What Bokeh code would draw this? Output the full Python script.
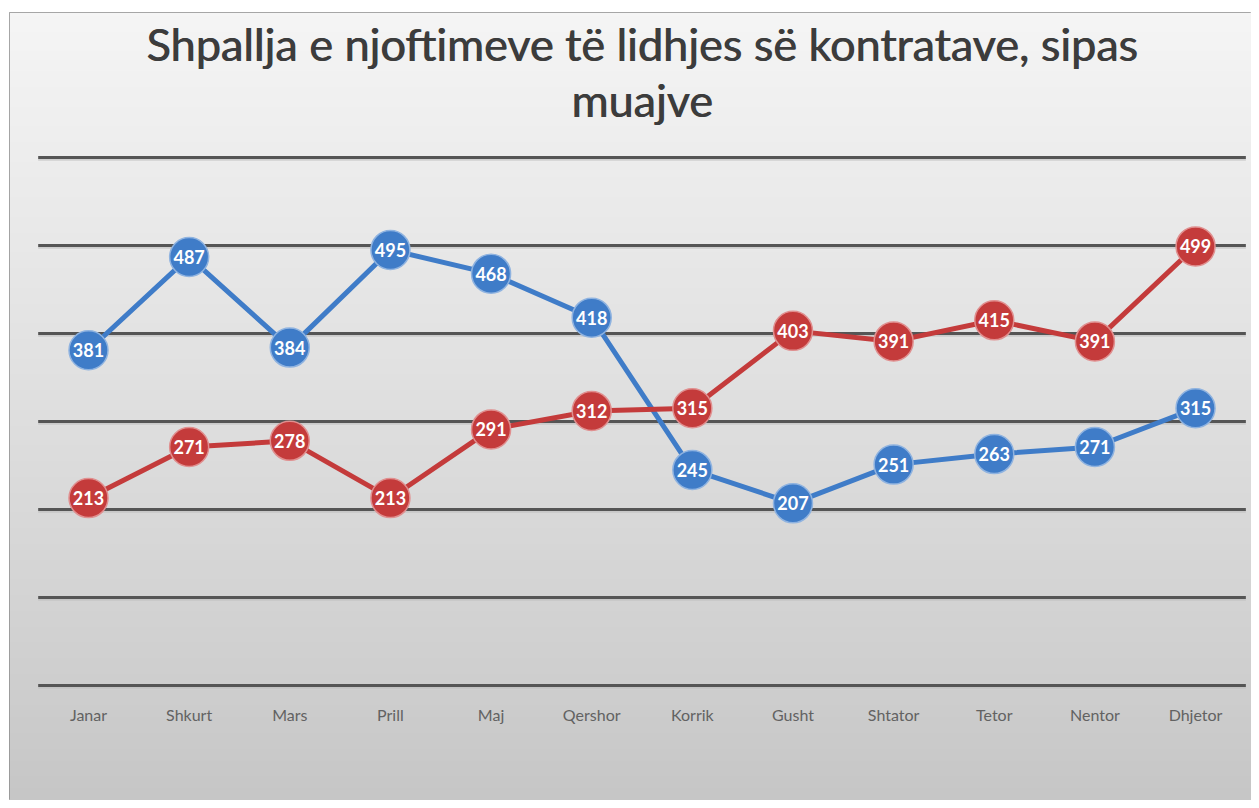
import numpy as np
from bokeh.plotting import figure
from bokeh.models import Range1d, ColumnDataSource
from bokeh.core.properties import value
from bokeh.embed import file_html
from bokeh.resources import INLINE

# ---- data ----
months = ["Janar", "Shkurt", "Mars", "Prill", "Maj", "Qershor", "Korrik",
          "Gusht", "Shtator", "Tetor", "Nentor", "Dhjetor"]
series_blue = [381, 487, 384, 495, 468, 418, 245, 207, 251, 263, 271, 315]
series_red = [213, 271, 278, 213, 291, 312, 315, 403, 391, 415, 391, 499]
grid_values = [0, 100, 200, 300, 400, 500, 600]
title_lines = ["Shpallja e njoftimeve të lidhjes së kontratave, sipas", "muajve"]

BLUE = "#3f7cc8"
RED = "#c43b3b"
FONT = "Lato"

W, H = 1251, 800
p = figure(width=W, height=H, output_backend="svg", toolbar_location=None,
           min_border_left=9, min_border_right=0, min_border_top=12, min_border_bottom=0,
           x_range=Range1d(-0.785, 11.556), y_range=Range1d(-130.7, 764.8))
p.axis.visible = False
p.grid.visible = False
p.outline_line_color = "#8c8c8c"
p.outline_line_width = 1
p.border_fill_color = "white"
p.background_fill_color = "#e6e6e6"

# background vertical gradient
n = 200
t = np.linspace(0, 1, n)  # 0 bottom -> 1 top
top = np.array([245, 245, 245])
bot = np.array([198, 198, 198])
cols = (bot[None, :] + (top - bot)[None, :] * (t[:, None] ** 0.9)).astype(np.uint32)
img = np.empty((n, 2), dtype=np.uint32)
view = img.view(dtype=np.uint8).reshape((n, 2, 4))
for j in range(2):
    view[:, j, 0] = cols[:, 0]
    view[:, j, 1] = cols[:, 1]
    view[:, j, 2] = cols[:, 2]
    view[:, j, 3] = 255
xr, yr = p.x_range, p.y_range
p.image_rgba(image=[img], x=xr.start, y=yr.start, dw=xr.end - xr.start, dh=yr.end - yr.start)

# grid lines
n_m = len(months)
p.segment(x0=[-0.5] * len(grid_values), x1=[n_m - 0.5] * len(grid_values),
          y0=[g - 2.5 for g in grid_values], y1=[g - 2.5 for g in grid_values],
          line_color="#bdbdbd", line_width=2, line_alpha=0.6)
p.segment(x0=[-0.5] * len(grid_values), x1=[n_m - 0.5] * len(grid_values),
          y0=grid_values, y1=grid_values, line_color="#555555", line_width=3)

xs = list(range(n_m))
for vals, col, edge in [(series_blue, BLUE, "#8fb3e0"), (series_red, RED, "#e08f8f")]:
    src = ColumnDataSource(dict(x=xs, y=vals, lab=[str(v) for v in vals]))
    p.line("x", "y", source=src, line_color=col, line_width=5)
    p.scatter("x", "y", source=src, size=39, fill_color=col, line_color=edge, line_width=1.5)
    p.text("x", "y", text="lab", source=src, text_color="white", text_font=value(FONT),
           text_font_style="bold", text_font_size="18px", text_align="center",
           text_baseline="middle")

# x labels
p.text(x=xs, y=[-33] * n_m, text=months, text_color="#626262", text_font=value(FONT),
       text_font_size="16px", text_align="center", text_baseline="middle")

# title (drawn twice with a sub-pixel offset for a semibold look)
for off in (0, 0.8):
    p.text(x=[(n_m - 1) / 2] * 2, y=[728.5, 665.0], text=title_lines, text_color="#3c3c3c",
           text_font=value(FONT), text_font_size="45px", text_align="center",
           text_baseline="alphabetic", x_offset=off)

open("out.html", "w").write(file_html(p, INLINE))
